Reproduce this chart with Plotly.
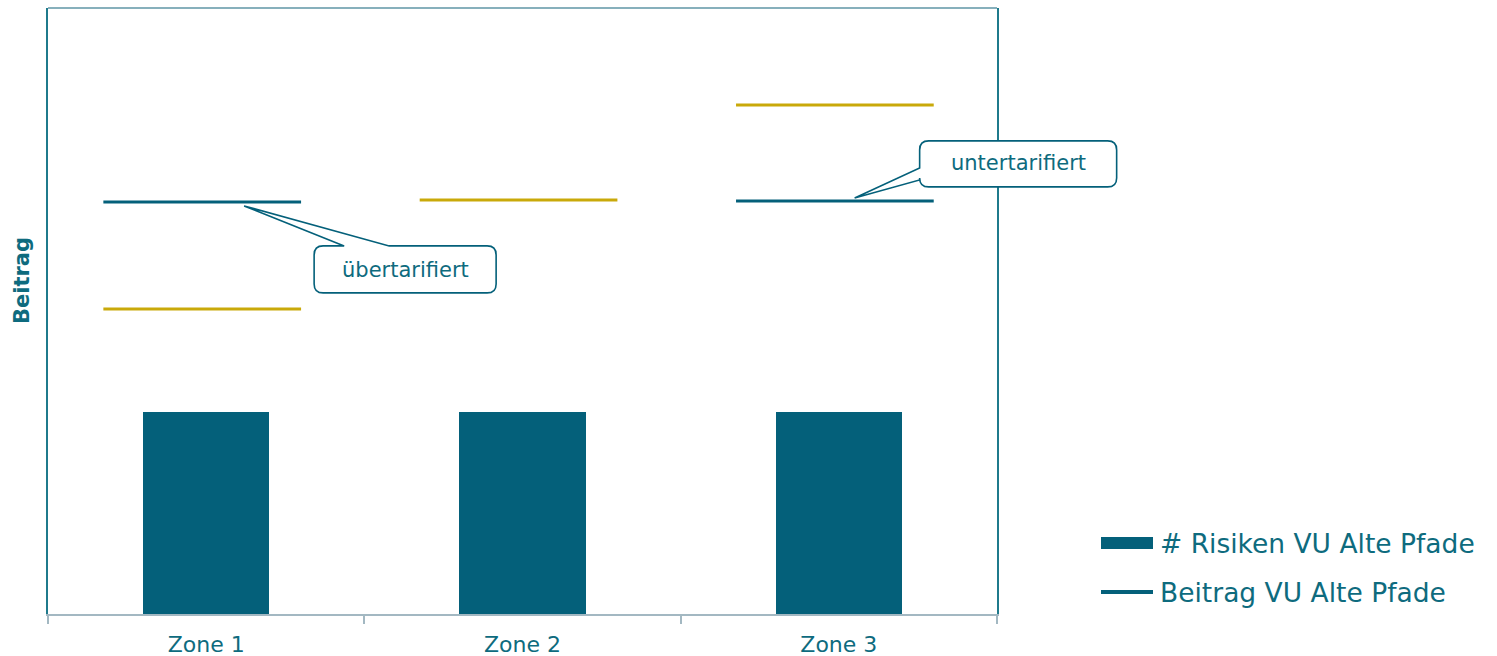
import plotly.graph_objects as go

# --- data -------------------------------------------------------------
zones = ["Zone 1", "Zone 2", "Zone 3"]
risiken_vu = [1.0, 1.0, 1.0]              # # Risiken VU Alte Pfade
beitrag_vu = [2.04, None, 2.045]          # Beitrag VU Alte Pfade
beitrag_ref = [1.51, 2.05, 2.52]          # Vergleichsbeitrag (gold)
series_names = ["# Risiken VU Alte Pfade", "Beitrag VU Alte Pfade"]
callouts = [("übertarifiert", 0, 0.12), ("untertarifiert", 2, 0.05)]

# --- style ------------------------------------------------------------
TEAL = "#04607a"
TEXT = "#0e6b7e"
GOLD = "#c9a90a"
FONT = "DejaVu Sans"
W, H = 1497, 656
ML, MR, MT, MB = 48, 500, 8, 42
PW, PH = W - ML - MR, H - MT - MB
XR = (-0.5, 2.5)
YR = (0, 3)

xs = list(range(len(zones)))


def seg_xy(values, left=-0.325, right=0.30):
    x, y = [], []
    for i, v in zip(xs, values):
        if v is None:
            continue
        x += [i + left, i + right, None]
        y += [v, v, None]
    return x, y


def to_px(xd, yd):
    px = ML + (xd - XR[0]) / (XR[1] - XR[0]) * PW
    py = MT + PH - (yd - YR[0]) / (YR[1] - YR[0]) * PH
    return px, py


def to_paper(px, py):
    return (px - ML) / PW, (MT + PH - py) / PH


fig = go.Figure()
fig.add_trace(go.Bar(x=xs, y=risiken_vu, width=0.4, marker_color=TEAL,
                     marker_line_width=0, name=series_names[0], showlegend=False))
bx, by = seg_xy(beitrag_ref)
fig.add_trace(go.Scatter(x=bx, y=by, mode="lines", line=dict(color=GOLD, width=3),
                         showlegend=False, hoverinfo="skip"))
tx, ty = seg_xy(beitrag_vu)
fig.add_trace(go.Scatter(x=tx, y=ty, mode="lines", line=dict(color=TEAL, width=3),
                         name=series_names[1], showlegend=False, hoverinfo="skip"))

shapes, annotations = [], []


def text_at(px, py, text, size, **kw):
    x, y = to_paper(px, py)
    d = dict(x=x, y=y, xref="paper", yref="paper", text=text, showarrow=False,
             xanchor="center", yanchor="middle", font=dict(family=FONT, size=size, color=TEXT))
    d.update(kw)
    annotations.append(d)


def bubble(tip, box, base, r=9):
    """Rounded callout box (pixel rect) with a wedge pointing at tip."""
    x0, y0, x1, y1 = box
    tpx, tpy = tip
    b1, b2 = base
    p = lambda a, b: "%.5f,%.5f" % to_paper(a, b)
    if b1[1] == y0:  # wedge on top edge
        path = ("M" + p(x0 + r, y0) + " L" + p(b1[0], y0) + " L" + p(tpx, tpy) +
                " L" + p(b2[0], y0) + " L" + p(x1 - r, y0) +
                " Q" + p(x1, y0) + " " + p(x1, y0 + r) +
                " L" + p(x1, y1 - r) + " Q" + p(x1, y1) + " " + p(x1 - r, y1) +
                " L" + p(x0 + r, y1) + " Q" + p(x0, y1) + " " + p(x0, y1 - r) +
                " L" + p(x0, y0 + r) + " Q" + p(x0, y0) + " " + p(x0 + r, y0) + " Z")
    else:  # wedge on left edge
        path = ("M" + p(x0 + r, y0) + " L" + p(x1 - r, y0) +
                " Q" + p(x1, y0) + " " + p(x1, y0 + r) +
                " L" + p(x1, y1 - r) + " Q" + p(x1, y1) + " " + p(x1 - r, y1) +
                " L" + p(x0 + r, y1) + " Q" + p(x0, y1) + " " + p(x0, y1 - r) +
                " L" + p(x0, b2[1]) + " L" + p(tpx, tpy) + " L" + p(x0, b1[1]) +
                " L" + p(x0, y0 + r) + " Q" + p(x0, y0) + " " + p(x0 + r, y0) + " Z")
    shapes.append(dict(type="path", xref="paper", yref="paper", path=path,
                       fillcolor="white", line=dict(color=TEAL, width=1.6), layer="above"))


# callout "übertarifiert" below the Zone 1 line
label, zi, dx = callouts[0]
tpx, tpy = to_px(zi + dx, beitrag_vu[zi])
tpy += 4
box = (tpx + 70, tpy + 40, tpx + 252, tpy + 87)
bubble((tpx, tpy), box, ((tpx + 100, box[1]), (tpx + 145, box[1])))
text_at((box[0] + box[2]) / 2, (box[1] + box[3]) / 2 + 1, label, 21)

# callout "untertarifiert" above the Zone 3 line
label, zi, dx = callouts[1]
tpx, tpy = to_px(zi + dx, beitrag_vu[zi])
tpy -= 3
box = (tpx + 65, tpy - 57, tpx + 262, tpy - 11)
bubble((tpx, tpy), box, ((box[0], tpy - 30), (box[0], tpy - 18)))
text_at((box[0] + box[2]) / 2, (box[1] + box[3]) / 2 - 1, label, 21)

# y-axis caption
text_at(22, 281, "<b>Beitrag</b>", 21, textangle=-90)

# legend (bottom right)
lx0, lx1 = 1101, 1153
for k, (name, kind) in enumerate(zip(series_names, ["bar", "line"])):
    cyp = 543 + k * 49
    if kind == "bar":
        a, b = to_paper(lx0, cyp - 6)
        c, d = to_paper(lx1, cyp + 6)
        shapes.append(dict(type="rect", xref="paper", yref="paper", x0=a, x1=c, y0=b, y1=d,
                           fillcolor=TEAL, line=dict(width=0)))
    else:
        a, b = to_paper(lx0, cyp)
        c, _ = to_paper(lx1, cyp)
        shapes.append(dict(type="line", xref="paper", yref="paper", x0=a, x1=c, y0=b, y1=b,
                           line=dict(color=TEAL, width=4)))
    text_at(lx1 + 5, cyp, name, 26.5, xanchor="left")

# top frame line
shapes.append(dict(type="line", xref="paper", yref="paper", x0=0, x1=1, y0=1, y1=1,
                   line=dict(color="#5f96a6", width=1.5)))

fig.update_layout(
    width=W, height=H,
    margin=dict(l=ML, r=MR, t=MT, b=MB, autoexpand=False),
    paper_bgcolor="white", plot_bgcolor="white",
    showlegend=False,
    shapes=shapes, annotations=annotations,
    font=dict(family=FONT, color=TEXT),
    xaxis=dict(range=list(XR), tickvals=xs, ticktext=zones, ticks="", showgrid=False,
               zeroline=False, showline=True, linecolor="#a3b8c2", linewidth=1.5,
               ticklabelstandoff=10, automargin=False,
               tickfont=dict(family=FONT, size=22, color=TEXT),
               minor=dict(tickvals=[-0.5, 0.5, 1.5, 2.5], ticks="outside", ticklen=8,
                          tickcolor="#a3b8c2", tickwidth=1.5, showgrid=False)),
    yaxis=dict(range=list(YR), showticklabels=False, ticks="", showgrid=False, zeroline=False,
               showline=True, mirror=True, linecolor="#1f7a8c", linewidth=1.5,
               automargin=False),
    bargap=0,
)

fig.write_html("out.html")
